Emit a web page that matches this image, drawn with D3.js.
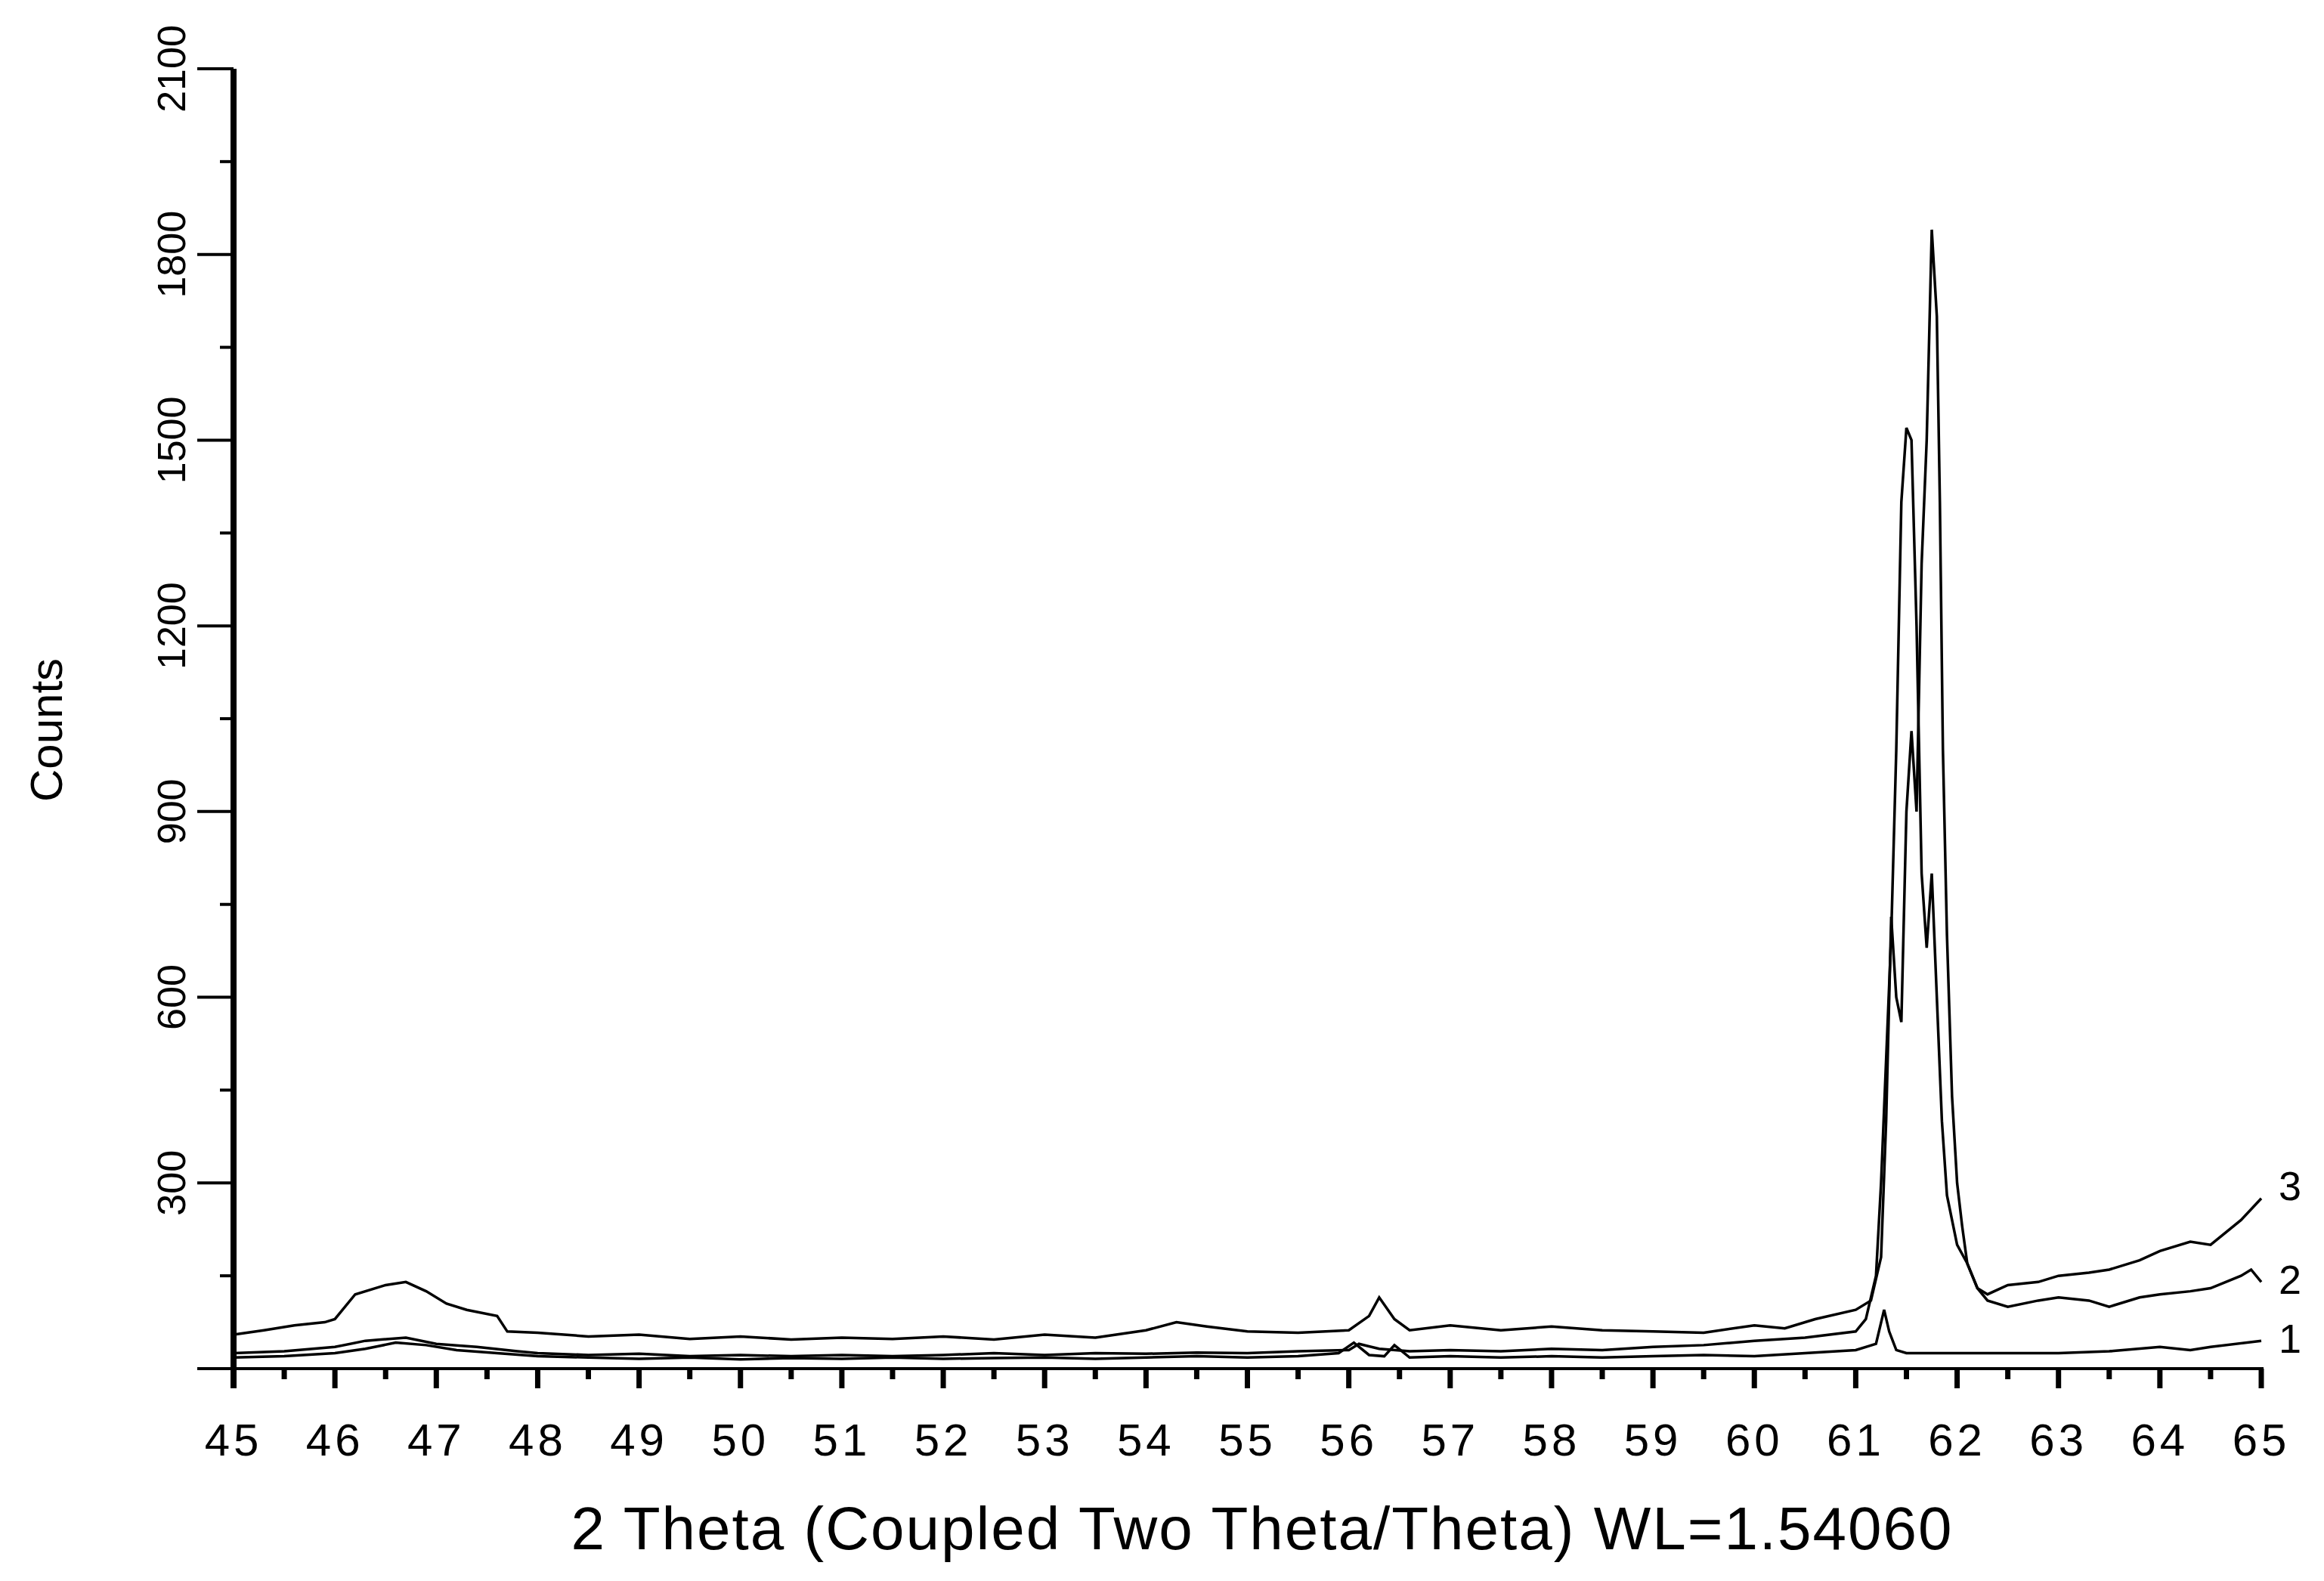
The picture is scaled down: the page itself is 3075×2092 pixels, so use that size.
<!DOCTYPE html>
<html><head><meta charset="utf-8">
<script src="https://cdn.jsdelivr.net/npm/d3@7"></script>
<style>body{margin:0;background:#fff}text{font-family:"Liberation Sans",Arial,sans-serif;fill:#000}</style>
</head><body><svg id="c" width="3075" height="2092"></svg>
<script>
const xTicks = [45,46,47,48,49,50,51,52,53,54,55,56,57,58,59,60,61,62,63,64,65];
const yTicks = [300,600,900,1200,1500,1800,2100];
const seriesLabels = ["1","2","3"];

const x1 = [45,45.5,46,46.3,46.6,46.9,47.2,47.6,48,48.5,49,49.5,50,50.5,51,51.5,52,52.5,53,53.5,54,54.5,55,55.5,55.9,56.05,56.2,56.35,56.45,56.6,57,57.5,58,58.5,59,59.5,60,60.5,61,61.2,61.28,61.33,61.4,61.5,62,62.5,63,63.5,64,64.3,64.5,65];
const y1 = [18,20,25,32,42,38,30,25,20,18,16,18,15,17,16,18,16,17,18,16,18,20,18,20,25,42,22,20,38,18,20,18,20,18,20,22,20,25,30,40,95,60,30,25,25,25,25,28,35,30,35,45];

const x2 = [45,45.5,46,46.3,46.7,47,47.4,47.8,48,48.5,49,49.5,50,50.5,51,51.5,52,52.5,53,53.5,54,54.5,55,55.5,56,56.1,56.3,56.6,57,57.5,58,58.5,59,59.5,60,60.5,61,61.1,61.2,61.25,61.3,61.35,61.4,61.45,61.5,61.55,61.6,61.65,61.7,61.75,61.8,61.85,61.9,62,62.1,62.2,62.3,62.5,62.8,63,63.3,63.5,63.8,64,64.3,64.5,64.8,64.9,65];
const y2 = [25,28,35,45,50,40,35,28,25,22,24,20,22,20,22,20,22,25,22,25,24,26,25,28,30,40,32,28,30,28,32,30,35,38,45,50,60,80,150,300,500,700,1000,1400,1520,1500,1200,800,680,800,600,400,280,200,170,130,110,100,110,115,110,100,115,120,125,130,150,160,140];

const x3 = [45,45.3,45.6,45.9,46,46.2,46.5,46.7,46.9,47.1,47.3,47.6,47.7,48,48.5,49,49.5,50,50.5,51,51.5,52,52.5,53,53.5,54,54.3,54.6,55,55.5,56,56.2,56.3,56.45,56.6,57,57.5,58,58.5,59,59.5,60,60.3,60.6,61,61.15,61.25,61.3,61.35,61.4,61.45,61.5,61.55,61.6,61.65,61.7,61.75,61.8,61.83,61.86,61.9,61.95,62,62.05,62.1,62.15,62.2,62.3,62.5,62.8,63,63.3,63.5,63.8,64,64.3,64.5,64.8,65];
const y3 = [55,62,70,75,80,120,135,140,125,105,95,85,60,58,52,55,48,52,47,50,48,52,47,55,50,62,75,68,60,58,62,85,115,80,62,70,62,68,62,60,58,70,65,80,95,110,180,400,730,600,560,900,1030,900,1300,1500,1840,1700,1400,1000,700,440,300,230,170,150,130,120,135,140,150,155,160,175,190,205,200,240,275];

const L=309,R=2992,T=91,B=1811;
const svg=d3.select("#c");
const x=d3.scaleLinear().domain([45,65]).range([L,R]);
const y=d3.scaleLinear().domain([0,2100]).range([B,T]);

const minorX=d3.range(45.5,65,1);
svg.append("g").selectAll("line").data(xTicks).join("line")
 .attr("x1",d=>x(d)).attr("x2",d=>x(d)).attr("y1",B).attr("y2",B+26).attr("stroke","#000").attr("stroke-width",7);
svg.append("g").selectAll("line").data(minorX).join("line")
 .attr("x1",d=>x(d)).attr("x2",d=>x(d)).attr("y1",B).attr("y2",B+14).attr("stroke","#000").attr("stroke-width",7);
svg.append("line").attr("x1",L).attr("x2",R+3).attr("y1",B).attr("y2",B).attr("stroke","#000").attr("stroke-width",4);
svg.append("g").selectAll("text").data(xTicks).join("text")
 .attr("x",d=>x(d)).attr("y",1926).attr("text-anchor","middle").attr("font-size",60).attr("letter-spacing",5).text(d=>d);
svg.append("text").attr("x",1670).attr("y",2050).attr("text-anchor","middle").attr("font-size",80).attr("letter-spacing",2)
 .text("2 Theta (Coupled Two Theta/Theta) WL=1.54060");

svg.append("line").attr("x1",L).attr("x2",L).attr("y1",T).attr("y2",B+26).attr("stroke","#000").attr("stroke-width",8);
const minorY=d3.range(150,2100,300);
svg.append("g").selectAll("line").data([0,...yTicks]).join("line")
 .attr("x1",L-48).attr("x2",L).attr("y1",d=>y(d)).attr("y2",d=>y(d)).attr("stroke","#000").attr("stroke-width",4);
svg.append("g").selectAll("line").data(minorY).join("line")
 .attr("x1",L-18).attr("x2",L).attr("y1",d=>y(d)).attr("y2",d=>y(d)).attr("stroke","#000").attr("stroke-width",4);
svg.append("g").selectAll("text").data(yTicks).join("text")
 .attr("transform",d=>`translate(245,${y(d)}) rotate(-90)`).attr("text-anchor","middle").attr("font-size",52).text(d=>d);
svg.append("text").attr("transform","translate(82,966) rotate(-90)").attr("text-anchor","middle").attr("font-size",60).text("Counts");

const line=d3.line().x(d=>x(d[0])).y(d=>y(d[1]));
[[x1,y1],[x2,y2],[x3,y3]].forEach(([xs,ys])=>{
 svg.append("path").datum(xs.map((v,i)=>[v,ys[i]])).attr("d",line).attr("fill","none").attr("stroke","#000").attr("stroke-width",3.5);
});
const labY=[45,140,275];
svg.append("g").selectAll("text").data(seriesLabels).join("text")
 .attr("x",3030).attr("y",(d,i)=>y(labY[i])-(i==2?14:0)+16).attr("text-anchor","middle").attr("font-size",54).text(d=>d);
</script></body></html>
